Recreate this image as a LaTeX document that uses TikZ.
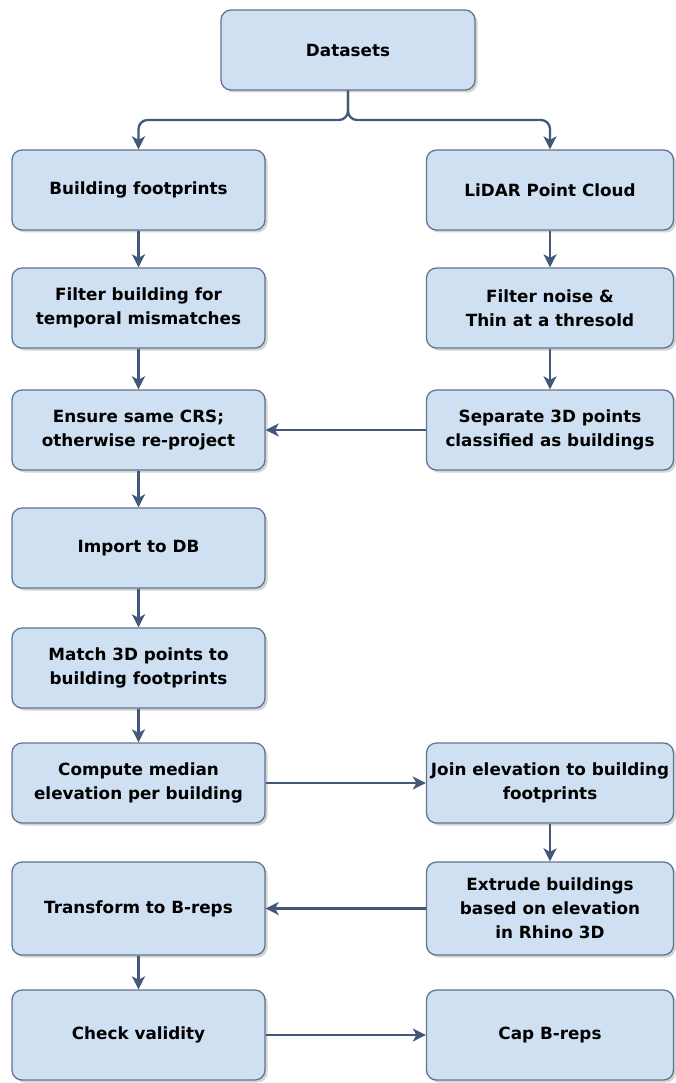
\documentclass[tikz,border=0pt]{standalone}
\usepackage{fontspec}
\setmainfont{DejaVu Sans}
\usetikzlibrary{arrows.meta,shadows}
\definecolor{boxfill}{HTML}{CFE0F2}
\definecolor{boxline}{HTML}{62758F}
\definecolor{flow}{HTML}{43577A}
\tikzset{
  stepbox/.style={draw=boxline, fill=boxfill, line width=1.3pt, rounded corners=10pt,
    minimum width=253pt, minimum height=80pt, align=center, inner sep=2pt,
    font=\fontsize{16.8}{24}\selectfont\bfseries,
    drop shadow={shadow xshift=2.5pt, shadow yshift=-2.5pt, opacity=0.35, fill=gray}},
  flowarrow/.style={draw=flow, line width=2.3pt,
    -{Stealth[length=13pt,width=13pt,inset=3.5pt]}}
}
\begin{document}
\begin{tikzpicture}[x=1pt,y=-1pt]
\useasboundingbox (0,0) rectangle (675,1083);

% top node
\node[stepbox, minimum width=254pt] (ds) at (348,50) {Datasets};

% left column
\node[stepbox] (bf)  at (138.5,190) {Building footprints};
\node[stepbox] (fb)  at (138.5,308) {Filter building for\\temporal mismatches};
\node[stepbox] (crs) at (138.5,430) {Ensure same CRS;\\otherwise re-project};
\node[stepbox] (imp) at (138.5,548) {Import to DB};
\node[stepbox] (mt)  at (138.5,668) {Match 3D points to\\building footprints};
\node[stepbox] (med) at (138.5,783) {Compute median\\elevation per building};
\node[stepbox, minimum height=93pt] (tb) at (138.5,908.5) {Transform to B-reps};
\node[stepbox, minimum height=90pt] (cv) at (138.5,1035) {Check validity};

% right column
\node[stepbox, minimum width=247pt] (li)  at (550,190) {LiDAR Point Cloud};
\node[stepbox, minimum width=247pt] (fn)  at (550,308) {Filter noise \&\\Thin at a thresold};
\node[stepbox, minimum width=247pt] (sep) at (550,430) {Separate 3D points\\classified as buildings};
\node[stepbox, minimum width=247pt] (jn)  at (550,783) {Join elevation to building\\footprints};
\node[stepbox, minimum width=247pt, minimum height=93pt] (ex) at (550,908.5) {Extrude buildings\\based on elevation\\in Rhino 3D};
\node[stepbox, minimum width=247pt, minimum height=90pt] (cap) at (550,1035) {Cap B-reps};

% split below the datasets node
\coordinate (split) at (348,120);
\draw[flowarrow, rounded corners=9pt] (ds.south) -- (split) -| (bf.north);
\draw[flowarrow, rounded corners=9pt] (ds.south) -- (split) -| (li.north);

% vertical flow
\draw[flowarrow] (bf) -- (fb);
\draw[flowarrow] (fb) -- (crs);
\draw[flowarrow] (crs) -- (imp);
\draw[flowarrow] (imp) -- (mt);
\draw[flowarrow] (mt) -- (med);
\draw[flowarrow] (tb) -- (cv);
\draw[flowarrow] (li) -- (fn);
\draw[flowarrow] (fn) -- (sep);
\draw[flowarrow] (jn) -- (ex);

% horizontal flow
\draw[flowarrow] (sep) -- (crs);
\draw[flowarrow] (med) -- (jn);
\draw[flowarrow] (ex) -- (tb);
\draw[flowarrow] (cv) -- (cap);
\end{tikzpicture}
\end{document}
